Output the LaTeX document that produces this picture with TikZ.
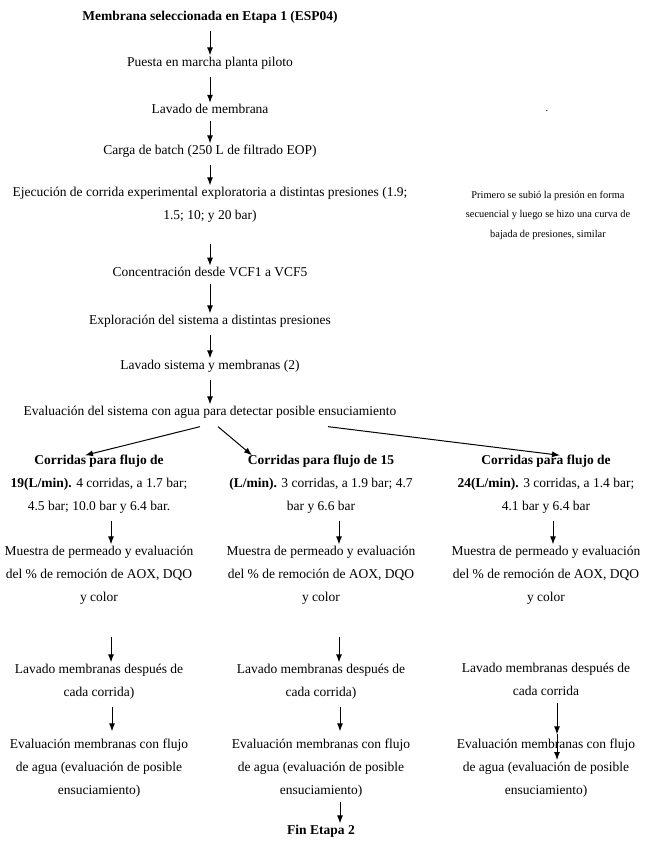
\documentclass[tikz,border=0pt]{standalone}
\usepackage{fontspec}
\setmainfont{Liberation Serif}
\usetikzlibrary{arrows.meta}
\begin{document}
\begin{tikzpicture}[x=1pt,y=-1pt,>={Latex[length=8pt,width=6pt]},line width=1pt,
  txt/.style={align=center,inner sep=1pt,font=\fontsize{13.5}{23}\selectfont},
  note/.style={align=center,inner sep=1pt,font=\fontsize{10.4}{19.5}\selectfont},
  arr/.style={->,shorten <=6pt}]
\useasboundingbox (0,0) rectangle (647,863);

% main column
\node[txt,font=\fontsize{13.5}{23}\selectfont\bfseries] (t0) at (210,17) {Membrana seleccionada en Etapa 1 (ESP04)};
\node[txt] (t1) at (210,63) {Puesta en marcha planta piloto};
\node[txt] (t2) at (210,109) {Lavado de membrana};
\node[txt] (t3) at (210,151) {Carga de batch (250 L de filtrado EOP)};
\node[txt] (t4) at (210,204.5) {Ejecución de corrida experimental exploratoria a distintas presiones (1.9;\\1.5; 10; y 20 bar)};
\node[txt] (t5) at (210,272) {Concentración desde VCF1 a VCF5};
\node[txt] (t6) at (210,321) {Exploración del sistema a distintas presiones};
\node[txt] (t7) at (210,366) {Lavado sistema y membranas (2)};
\node[txt] (t8) at (210,412) {Evaluación del sistema con agua para detectar posible ensuciamiento};

\draw[arr] (t0.south) -- (t1.north);
\draw[arr] (t1.south) -- (t2.north);
\draw[arr] (t2.south) -- (t3.north);
\draw[arr] (t3.south) -- (t4.north);
\draw[arr,shorten <=20pt] (t4.south) -- (t5.north);
\draw[arr] (t5.south) -- (t6.north);
\draw[arr] (t6.south) -- (t7.north);
\draw[arr] (t7.south) -- (t8.north);

% side note
\node[note] (dot) at (547,111) {.};
\node[note] (n1) at (548,215) {Primero se subió la presión en forma\\secuencial y luego se hizo una curva de\\bajada de presiones, similar};

% three branches
\node[txt] (c1) at (99,484) {\textbf{Corridas para flujo de}\\\textbf{19(L/min).} 4 corridas, a 1.7 bar;\\4.5 bar; 10.0 bar y 6.4 bar.};
\node[txt] (c2) at (321,484) {\textbf{Corridas para flujo de 15}\\\textbf{(L/min).} 3 corridas, a 1.9 bar; 4.7\\bar y 6.6 bar};
\node[txt] (c3) at (546,484) {\textbf{Corridas para flujo de}\\\textbf{24(L/min).} 3 corridas, a 1.4 bar;\\4.1 bar y 6.4 bar};

\draw[->] ([xshift=-10pt,yshift=-7pt]t8.south) -- ([xshift=-14pt,yshift=-2pt]c1.north);
\draw[->] ([xshift=8pt,yshift=-7pt]t8.south) -- ([xshift=-69pt,yshift=-2pt]c2.north);
\draw[->] ([xshift=118pt,yshift=-7pt]t8.south) -- ([xshift=14pt,yshift=-2pt]c3.north);

\node[txt] (m1) at (99,575) {Muestra de permeado y evaluación\\del \% de remoción de AOX, DQO\\y color};
\node[txt] (m2) at (321,575) {Muestra de permeado y evaluación\\del \% de remoción de AOX, DQO\\y color};
\node[txt] (m3) at (546,575) {Muestra de permeado y evaluación\\del \% de remoción de AOX, DQO\\y color};

\node[txt] (l1) at (99,681.5) {Lavado membranas después de\\cada corrida)};
\node[txt] (l2) at (321,681.5) {Lavado membranas después de\\cada corrida)};
\node[txt] (l3) at (546,679.5) {Lavado membranas después de\\cada corrida};

\node[txt] (e1) at (99,768) {Evaluación membranas con flujo\\de agua (evaluación de posible\\ensuciamiento)};
\node[txt] (e2) at (321,768) {Evaluación membranas con flujo\\de agua (evaluación de posible\\ensuciamiento)};
\node[txt] (e3) at (546,768) {Evaluación membranas con flujo\\de agua (evaluación de posible\\ensuciamiento)};

\node[txt,font=\fontsize{13.5}{23}\selectfont\bfseries] (fin) at (321,831) {Fin Etapa 2};

% column arrows
\draw[arr] ([xshift=12pt]c1.south) -- ([xshift=12pt]c1.south |- m1.north);
\draw[arr] ([xshift=18pt]c2.south) -- ([xshift=18pt]c2.south |- m2.north);
\draw[arr] ([xshift=7pt]c3.south) -- ([xshift=7pt]c3.south |- m3.north);

\draw[arr,shorten <=31pt] ([xshift=12pt]m1.south) -- ([xshift=12pt]m1.south |- l1.north);
\draw[arr,shorten <=31pt] ([xshift=18pt]m2.south) -- ([xshift=18pt]m2.south |- l2.north);

\draw[arr,shorten >=6pt] ([xshift=13pt]l1.south) -- ([xshift=13pt]l1.south |- e1.north);
\draw[arr,shorten >=6pt] ([xshift=19pt]l2.south) -- ([xshift=19pt]l2.south |- e2.north);
\draw[arr,shorten >=3pt] ([xshift=11pt]l3.south) -- ([xshift=11pt]l3.south |- e3.north);
\draw[->] ([xshift=11pt,yshift=3pt]e3.north) -- ([xshift=11pt,yshift=8pt]e3.center);

\draw[arr,shorten <=3pt] ([xshift=19pt]e2.south) -- ([xshift=19pt]e2.south |- fin.north);
\end{tikzpicture}
\end{document}
